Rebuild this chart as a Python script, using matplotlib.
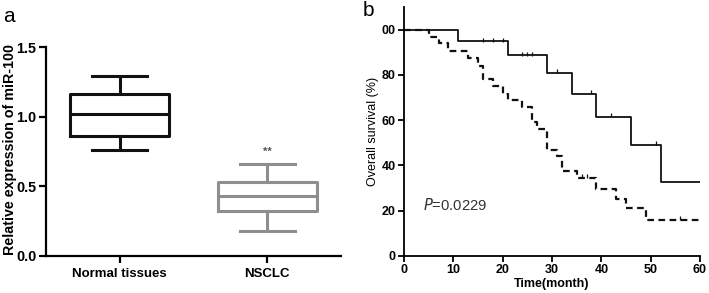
import numpy as np
import matplotlib
matplotlib.use('Agg')
import matplotlib.pyplot as plt

plt.rcParams['font.family'] = ['Liberation Sans', 'DejaVu Sans']

# panel a: box plot summary values
groups = ['Normal tissues', 'NSCLC']
whis_low = [0.76, 0.18]
q1 = [0.86, 0.32]
medians = [1.02, 0.43]
q3 = [1.16, 0.53]
whis_high = [1.29, 0.66]
box_colors = ['#111111', '#8e8e8e']

# panel b: Kaplan-Meier curves
times_hi = [0, 11, 21, 29, 34, 39, 46, 52, 60]
surv_hi = [100, 94.8, 88.6, 81.0, 71.5, 61.4, 49.0, 32.8, 32.8]
censor_hi = [16, 18, 20, 24, 25, 26, 31, 38, 42, 51]

times_lo = [0, 5, 7, 9, 13, 15, 16, 18, 20, 21, 24, 26, 27, 29, 31, 32, 35,
            39, 43, 45, 49, 60]
surv_lo = [100, 96.8, 94.0, 90.7, 87.5, 84.0, 78.0, 75.0, 71.5, 68.9, 65.8,
           59.4, 56.0, 46.9, 44.0, 37.5, 34.4, 29.8, 25.3, 21.1, 16.0, 16.0]
censor_lo = [36, 37, 56]

fig = plt.figure(figsize=(7.09, 2.93), dpi=100)

# ---- panel a ----
ax1 = fig.add_axes([0.0649, 0.1263, 0.416, 0.713])
for i in range(len(groups)):
    stats = [dict(med=medians[i], q1=q1[i], q3=q3[i],
                  whislo=whis_low[i], whishi=whis_high[i], fliers=[])]
    c = box_colors[i]
    ax1.bxp(stats, positions=[i], widths=0.67, showfliers=False,
            capwidths=0.37,
            boxprops=dict(color=c, linewidth=2.2),
            medianprops=dict(color=c, linewidth=2.2),
            whiskerprops=dict(color=c, linewidth=2.2),
            capprops=dict(color=c, linewidth=2.2))
ax1.text(1, whis_high[1] + 0.05, '**', ha='center', va='bottom',
         fontsize=8, fontweight='bold', color='#555555')
ax1.set_xlim(-0.5, 1.5)
ax1.set_ylim(0, 1.5)
ax1.set_yticks([0, 0.5, 1.0, 1.5])
ax1.set_yticklabels(['0.0', '0.5', '1.0', '1.5'])
ax1.set_xticks([0, 1])
ax1.set_xticklabels(groups)
ax1.set_ylabel('Relative expression of miR-100', fontsize=10.3,
               fontweight='bold')
ax1.yaxis.set_label_coords(-0.098, 0.51)
for s in ['top', 'right']:
    ax1.spines[s].set_visible(False)
for s in ['left', 'bottom']:
    ax1.spines[s].set_linewidth(1.6)
ax1.tick_params(width=1.6, length=5)
ax1.tick_params(axis='x', labelsize=9.5)
ax1.tick_params(axis='y', labelsize=10.4, pad=2)
for lab in ax1.get_xticklabels() + ax1.get_yticklabels():
    lab.set_fontweight('bold')
fig.text(0.004, 0.975, 'a', fontsize=15, va='top', ha='left')

# ---- panel b ----
ax2 = fig.add_axes([0.5698, 0.1263, 0.4175, 0.85])
ax2.step(times_hi, surv_hi, where='post', color='#111111', linewidth=1.3)
ax2.step(times_lo, surv_lo, where='post', color='#111111', linewidth=1.6,
         linestyle=(0, (3, 2)))


def level_at(times, surv, t):
    idx = np.searchsorted(times, t, side='right') - 1
    return surv[idx]


# censor marks: short ticks sitting on top of each curve
ax2.plot(censor_hi, [level_at(times_hi, surv_hi, t) + 0.8 for t in censor_hi],
         linestyle='none', marker='|', markersize=3, color='#111111',
         markeredgewidth=0.9)
ax2.plot(censor_lo, [level_at(times_lo, surv_lo, t) + 0.8 for t in censor_lo],
         linestyle='none', marker='|', markersize=3, color='#111111',
         markeredgewidth=0.9)
ax2.text(3.85, 22.5, r'$\it{P}$=0.0229', fontsize=10.6, va='center',
         ha='left', color='#333333')
ax2.set_xlim(0, 60)
ax2.set_ylim(0, 110)
ax2.set_xticks(range(0, 61, 10))
ax2.set_yticks([0, 20, 40, 60, 80, 100])
ax2.set_yticklabels(['0', '20', '40', '60', '80', '00'])
ax2.set_xlabel('Time(month)', fontsize=9, fontweight='bold', labelpad=1)
ax2.set_ylabel('Overall survival (%)', fontsize=9, labelpad=2)
for s in ['top', 'right']:
    ax2.spines[s].set_visible(False)
for s in ['left', 'bottom']:
    ax2.spines[s].set_linewidth(1.3)
ax2.tick_params(width=1.3, length=4, labelsize=9, pad=2)
for lab in ax2.get_xticklabels() + ax2.get_yticklabels():
    lab.set_fontweight('bold')
fig.text(0.511, 0.995, 'b', fontsize=15, va='top', ha='left')

fig.savefig('out.png', dpi=100)
